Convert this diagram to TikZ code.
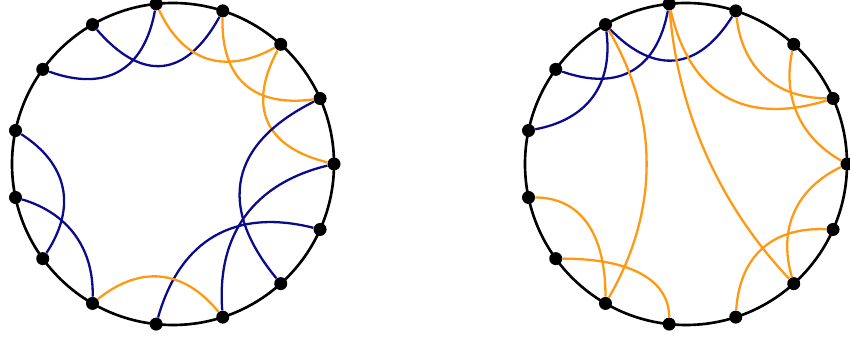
\documentclass[tikz,border=0pt]{standalone}
\usetikzlibrary{calc}
\definecolor{chordblue}{RGB}{10,10,140}
\definecolor{chordorange}{RGB}{255,153,20}
% quadratic chord: style, from, to, control point
\newcommand{\qchord}[4]{\draw[#1] (#2) .. controls ($(#2)!0.667!(#4)$) and ($(#3)!0.667!(#4)$) .. (#3);}
\begin{document}
\begin{tikzpicture}[
    dot/.style={circle, fill=black, inner sep=0pt, minimum size=0.26cm},
    rim/.style={line width=1.5pt},
    bl/.style={draw=chordblue, line width=1.3pt},
    og/.style={draw=chordorange, line width=1.3pt}]
      \useasboundingbox (0,0) rectangle (17,6.82);

      % Left disk
      \begin{scope}[shift={(3.46,3.54)}]
        \draw[rim] (0,0) circle (3.22);
        % Nodes
        \node (l0)  at (0:3.22)   [dot] {};
        \node (l1)  at (24:3.22)  [dot] {};
        \node (l2)  at (48:3.22)  [dot] {};
        \node (l3)  at (72:3.22)  [dot] {};
        \node (l4)  at (96:3.22)  [dot] {};
        \node (l5)  at (120:3.22) [dot] {};
        \node (l6)  at (144:3.22) [dot] {};
        \node (l7)  at (168:3.22) [dot] {};
        \node (l8)  at (192:3.22) [dot] {};
        \node (l9)  at (216:3.22) [dot] {};
        \node (l10) at (240:3.22) [dot] {};
        \node (l11) at (264:3.22) [dot] {};
        \node (l12) at (288:3.22) [dot] {};
        \node (l13) at (312:3.22) [dot] {};
        \node (l14) at (336:3.22) [dot] {};

        % Chords
        \qchord{bl}{l5}{l3}{96:1.06}
        \qchord{bl}{l6}{l4}{120:1.40}
        \qchord{og}{l4}{l2}{72:1.54}
        \qchord{og}{l3}{l1}{48:1.40}
        \qchord{og}{l2}{l0}{24:1.26}
        \qchord{bl}{l1}{l13}{348:0.24}
        \qchord{bl}{l0}{l12}{324:1.0}
        \qchord{bl}{l14}{l11}{300:0.77}
        \qchord{og}{l10}{l12}{264:1.64}
        \qchord{bl}{l7}{l9}{192:1.62}
        \qchord{bl}{l8}{l10}{216:1.94}
      \end{scope}

      % Right disk
      \begin{scope}[shift={(13.72,3.54)}]
        \draw[rim] (0,0) circle (3.22);
        % Nodes
        \node (r0)  at (0:3.22)   [dot] {};
        \node (r1)  at (24:3.22)  [dot] {};
        \node (r2)  at (48:3.22)  [dot] {};
        \node (r3)  at (72:3.22)  [dot] {};
        \node (r4)  at (96:3.22)  [dot] {};
        \node (r5)  at (120:3.22) [dot] {};
        \node (r6)  at (144:3.22) [dot] {};
        \node (r7)  at (168:3.22) [dot] {};
        \node (r8)  at (192:3.22) [dot] {};
        \node (r9)  at (216:3.22) [dot] {};
        \node (r10) at (240:3.22) [dot] {};
        \node (r11) at (264:3.22) [dot] {};
        \node (r12) at (288:3.22) [dot] {};
        \node (r13) at (312:3.22) [dot] {};
        \node (r14) at (336:3.22) [dot] {};

        % Chords
        \qchord{bl}{r5}{r7}{144:1.70}
        \qchord{bl}{r6}{r4}{120:1.42}
        \qchord{bl}{r5}{r3}{96:1.28}
        \qchord{og}{r5}{r10}{0:0}
        \qchord{og}{r4}{r13}{204:0.08}
        \qchord{og}{r4}{r1}{60:0.57}
        \qchord{og}{r3}{r1}{48:1.80}
        \qchord{og}{r2}{r0}{24:1.98}
        \qchord{og}{r8}{r10}{r8 -| r10}
        \qchord{og}{r9}{r11}{r9 -| r11}
        \qchord{og}{r12}{r14}{312:1.66}
        \qchord{og}{r13}{r0}{336:1.84}
      \end{scope}
\end{tikzpicture}
\end{document}
